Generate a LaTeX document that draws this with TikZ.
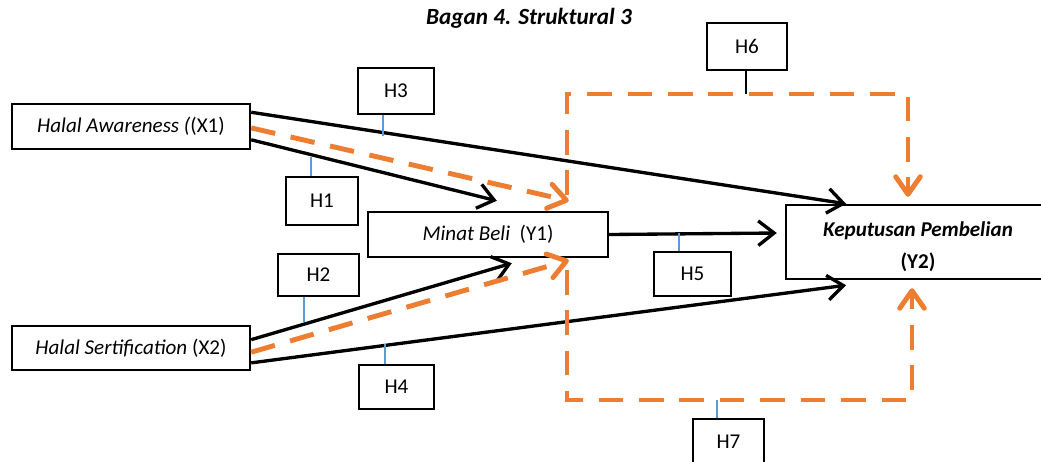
\documentclass[tikz,border=0pt]{standalone}
\usepackage{fontspec}
\setmainfont{Carlito}
\usetikzlibrary{arrows.meta,calc,positioning}
\definecolor{hypo}{HTML}{ED7D31}
\definecolor{tickblue}{HTML}{5B9BD5}

\begin{document}
\begin{tikzpicture}[x=0.02cm, y=-0.02cm, every node/.style={font=\fontsize{12}{14}\selectfont},
  varbox/.style={draw, line width=1.4pt, inner sep=0pt},
  hbox/.style={draw, line width=0.7pt, inner sep=0pt},
  direct/.style={line width=1.9pt, -{Straight Barb[length=9pt,width=14pt]}},
  indirect/.style={hypo, line width=2.8pt, dash pattern=on 14pt off 9pt, -{Straight Barb[length=10pt,width=14pt,round]}},
  tick/.style={tickblue, line width=0.6pt}]
  \useasboundingbox (0,0) rectangle (1041,461);
  \node[font=\fontsize{13.2}{16}\selectfont\bfseries\itshape] (title) at (529,18) {Bagan 4. Struktural 3};
  % variables
  \node[varbox, minimum width=4.76cm, minimum height=0.9cm] (x1) at (131,126.5) {\textit{Halal Awareness (}(X1)};
  \node[varbox, minimum width=4.76cm, minimum height=0.88cm] (x2) at (131,348) {\textit{Halal Sertification} (X2)};
  \node[varbox, minimum width=4.8cm, minimum height=0.9cm] (y1) at (488,234.5) {\textit{Minat Beli}\ \ (Y1)};
  \node[varbox, minimum width=5.28cm, minimum height=1.48cm, align=center, font=\fontsize{12}{18}\selectfont\bfseries] (y2) at (918,242) {\rule{0pt}{13.5pt}\textit{Keputusan Pembelian}\\(Y2)};
  % hypothesis labels
  \foreach \n/\px/\py/\w/\h in {3/396/91/1.52/0.92, 1/322/201/1.44/0.96, 2/318.5/275/1.62/0.84, 4/396.5/387/1.5/0.88, 5/692.5/274/1.54/0.88, 6/747/46.5/1.6/0.94, 7/728.5/442/1.42/0.92}{
    \node[hbox, minimum width=\w cm, minimum height=\h cm] (h\n) at (\px,\py) {H\n};
  }
  % direct paths
  \draw[direct] ($(x1.north east)!0.2!(x1.south east)$) -- ($(y2.north west)!0.23!(y2.north east)$);
  \draw[direct] ($(x1.north east)!0.78!(x1.south east)$) -- ($(y1.north west)+(130,-10)$);
  \draw[direct] ($(x2.north east)!0.32!(x2.south east)$) -- ($(y1.south west)+(145,5)$);
  \draw[direct] ($(x2.north east)!0.82!(x2.south east)$) -- ($(y2.south west)!0.23!(y2.south east)+(0,5)$);
  \draw[direct] (y1.east) -- ($(y2.west)+(-8,-9)$);
  % mediated paths
  \draw[indirect] ($(x1.north east)!0.53!(x1.south east)$) -- ($(y1.north west)+(202,-10)$);
  \draw[indirect] ($(x2.north east)!0.59!(x2.south east)$) -- ($(y1.south west)+(202,2)$);
  \coordinate (m6) at (567,195);
  \coordinate (k6) at (567,94);
  \coordinate (m7) at (567,270);
  \coordinate (k7) at (567,400);
  \draw[indirect] (m6) -- (k6) -| ($(y2.north)+(-10,-7)$);
  \draw[indirect] (m7) -- (k7) -| ($(y2.south)+(-6,8)$);
  % ticks
  \foreach \n/\tx/\ty/\side in {3/383/136/south, 1/311/157/north, 2/304/322/south, 4/385/344/north, 5/679/233/north, 7/717/400/north}{
    \coordinate (t\n) at (\tx,\ty);
    \draw[tick] (t\n) -- (t\n |- h\n.\side);
  }
  \coordinate (t6) at (746,94);
  \draw[line width=0.8pt] (t6) -- (t6 |- h6.south);
\end{tikzpicture}
\end{document}
